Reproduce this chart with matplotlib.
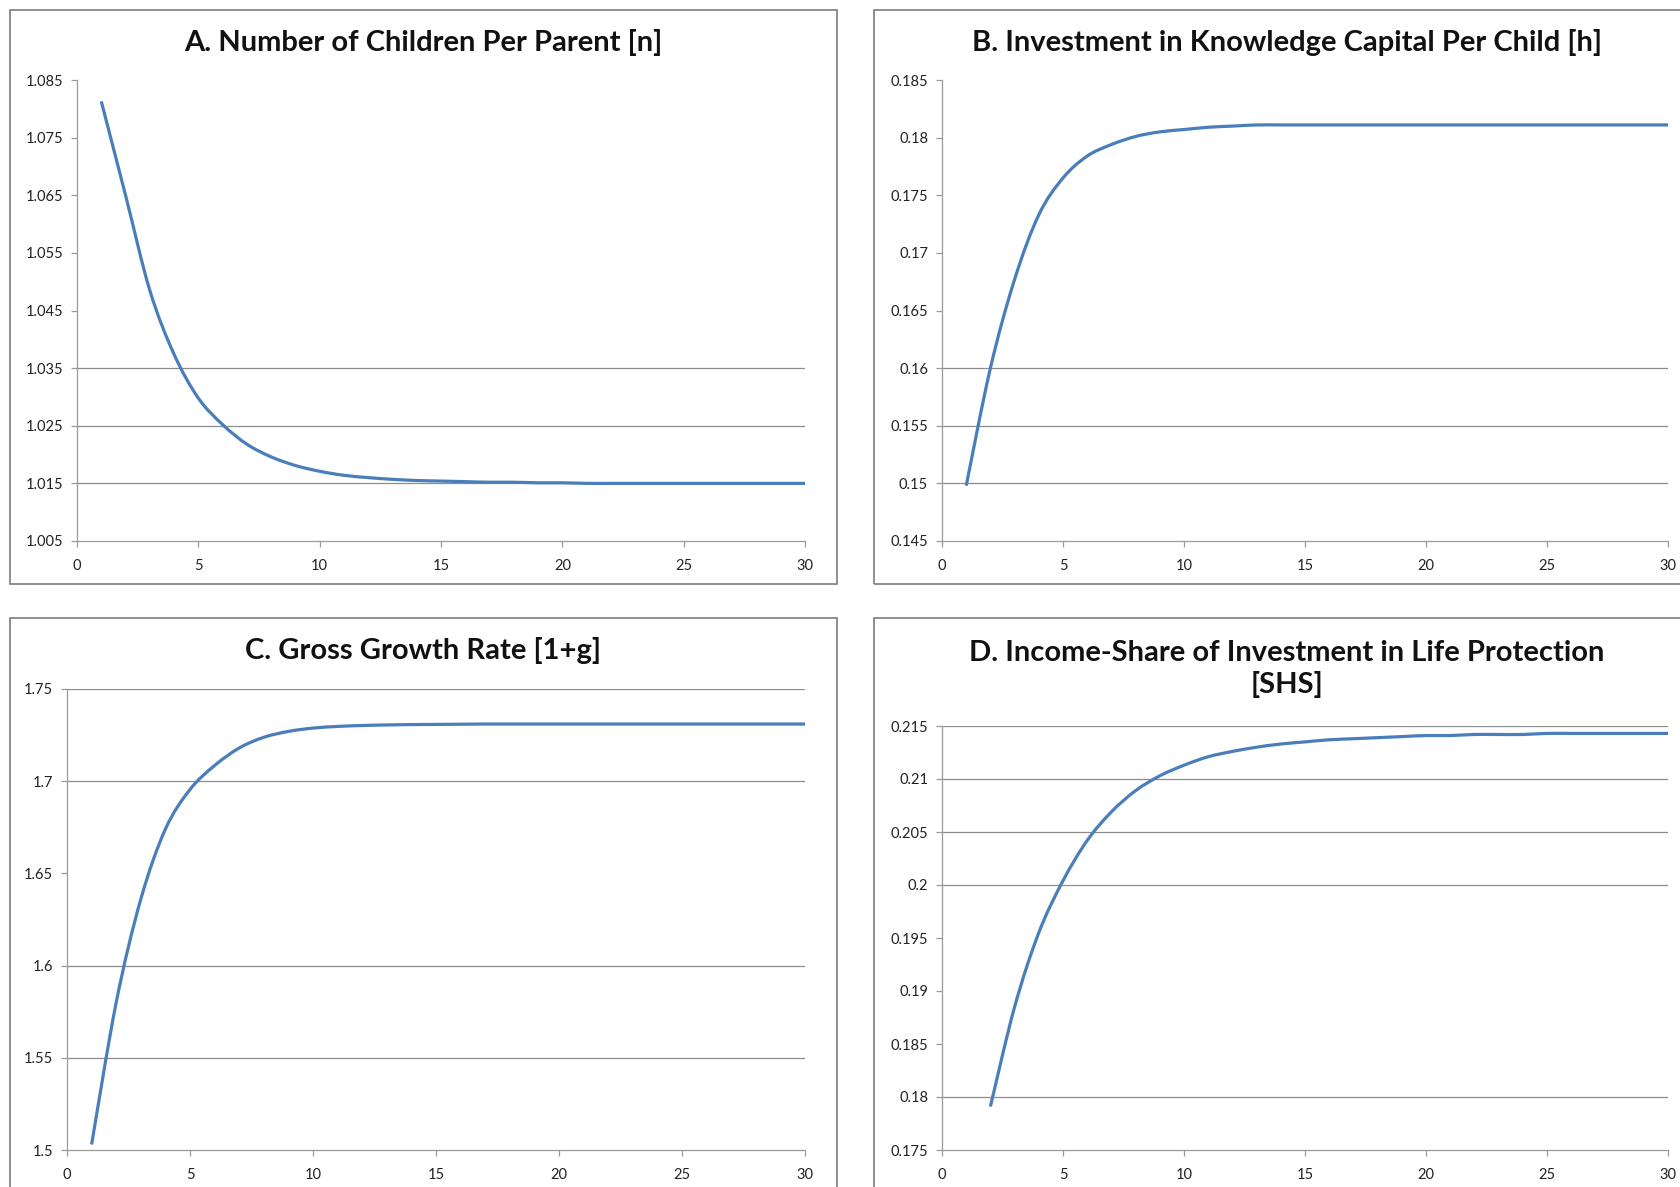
import matplotlib
matplotlib.use('Agg')
import matplotlib.pyplot as plt
import matplotlib.patches as mpatches
from matplotlib.path import Path
from matplotlib.ticker import FuncFormatter

# === Data ===
periods = list(range(1, 31))
periods_shs = list(range(2, 31))

children_n = [1.0813, 1.0650, 1.0485, 1.0374, 1.0298, 1.0252, 1.0218, 1.0196,
              1.0181, 1.0171, 1.0164, 1.0160, 1.0157, 1.0155, 1.0154, 1.0153,
              1.0152, 1.0152, 1.0151, 1.0151, 1.0150, 1.0150, 1.0150, 1.0150,
              1.0150, 1.0150, 1.0150, 1.0150, 1.0150, 1.0150]

knowledge_h = [0.1498, 0.1600, 0.1677, 0.1733, 0.1765, 0.1784, 0.1794, 0.1801,
               0.1805, 0.1807, 0.1809, 0.1810, 0.1811, 0.1811, 0.1811, 0.1811,
               0.1811, 0.1811, 0.1811, 0.1811, 0.1811, 0.1811, 0.1811, 0.1811,
               0.1811, 0.1811, 0.1811, 0.1811, 0.1811, 0.1811]

growth_g = [1.503, 1.580, 1.636, 1.674, 1.6955, 1.7085, 1.7180, 1.7238, 1.7270,
            1.7288, 1.7297, 1.7302, 1.7305, 1.7307, 1.7308, 1.7309, 1.7310,
            1.7310, 1.7310, 1.7310, 1.7310, 1.7310, 1.7310, 1.7310, 1.7310,
            1.7310, 1.7310, 1.7310, 1.7310, 1.7310]

shs = [0.1791, 0.1885, 0.1955, 0.2004, 0.2042, 0.2069, 0.2089, 0.2103, 0.2113,
       0.2121, 0.2126, 0.2130, 0.2133, 0.2135, 0.2137, 0.2138, 0.2139, 0.2140,
       0.2141, 0.2141, 0.2142, 0.2142, 0.2142, 0.2143, 0.2143, 0.2143, 0.2143,
       0.2143, 0.2143]

titles = ['A. Number of Children Per Parent [n]',
          'B. Investment in Knowledge Capital Per Child [h]',
          'C. Gross Growth Rate [1+g]',
          'D. Income-Share of Investment in Life Protection\n[SHS]']

# === Style ===
LINE = '#4A7EBB'
GRID = '#8C8C8C'
AXIS = '#9A9A9A'
BORDER = '#868686'
TXT = '#222222'
plt.rcParams['font.family'] = ['Lato', 'DejaVu Sans']

W, H = 1680, 1187
fig = plt.figure(figsize=(W / 100, H / 100), dpi=100)


def fx(px):
    return px / W


def fy(py):
    return 1 - py / H


def fmt(v, _):
    s = '%.3f' % v
    return s.rstrip('0').rstrip('.')


def smooth_path(xs, ys):
    # Excel-style smoothed line: Catmull-Rom segments as cubic Beziers
    pts = list(zip(xs, ys))
    n = len(pts)
    verts = [pts[0]]
    codes = [Path.MOVETO]
    for i in range(n - 1):
        p0 = pts[i - 1] if i > 0 else pts[i]
        p1, p2 = pts[i], pts[i + 1]
        p3 = pts[i + 2] if i + 2 < n else pts[i + 1]
        c1 = (p1[0] + (p2[0] - p0[0]) / 6, p1[1] + (p2[1] - p0[1]) / 6)
        c2 = (p2[0] - (p3[0] - p1[0]) / 6, p2[1] - (p3[1] - p1[1]) / 6)
        verts += [c1, c2, p2]
        codes += [Path.CURVE4] * 3
    return Path(verts, codes)


# panel: (axes px box left, right, top, bottom), ylim, ytick step, grid levels, x, y
panels = [
    ((77, 805, 80, 541), (1.005, 1.085), 0.01, [1.015, 1.025, 1.035], periods, children_n),
    ((942, 1668, 80, 541), (0.145, 0.185), 0.005, [0.15, 0.155, 0.16], periods, knowledge_h),
    ((67, 805, 689, 1150), (1.5, 1.75), 0.05, [1.55, 1.6, 1.7, 1.75], periods, growth_g),
    ((942, 1668, 726, 1150), (0.175, 0.215), 0.005, [0.18, 0.2, 0.205, 0.21, 0.215], periods_shs, shs),
]

# panel frames (px): left, right, top, bottom
frames = [(10, 837, 10, 584), (874, 1700, 10, 584),
          (10, 837, 618, 1200), (874, 1700, 618, 1200)]
title_pos = [(423, 42), (1287, 42), (423, 651), (1287, 669)]

for i, ((l, r, t, b), ylim, step, grid, xs, ys) in enumerate(panels):
    ax = fig.add_axes([fx(l), fy(b), fx(r - l), (b - t) / H])
    ax.set_xlim(0, 30)
    ax.set_ylim(*ylim)
    n = int(round((ylim[1] - ylim[0]) / step))
    ax.set_yticks([ylim[0] + k * step for k in range(n + 1)])
    ax.set_xticks(range(0, 31, 5))
    ax.yaxis.set_major_formatter(FuncFormatter(fmt))
    for g in grid:
        ax.axhline(g, color=GRID, lw=0.9, zorder=1)
    ax.add_patch(mpatches.PathPatch(smooth_path(xs, ys), facecolor='none',
                                    edgecolor=LINE, lw=2.3, zorder=3,
                                    clip_on=False, capstyle='butt'))
    for s in ['top', 'right']:
        ax.spines[s].set_visible(False)
    for s in ['left', 'bottom']:
        ax.spines[s].set_color(AXIS)
        ax.spines[s].set_linewidth(0.9)
    ax.tick_params(axis='both', colors=AXIS, labelcolor=TXT, labelsize=10.5,
                   length=4, width=0.9, direction='out')
    ax.tick_params(axis='y', pad=6)
    ax.tick_params(axis='x', pad=9)

    fl, fr, ft, fb = frames[i]
    fig.patches.append(mpatches.Rectangle((fx(fl), fy(fb)), fx(fr - fl), (fb - ft) / H,
                                          transform=fig.transFigure, fill=False,
                                          edgecolor=BORDER, lw=1.3))
    tx, ty = title_pos[i]
    fig.text(fx(tx), fy(ty), titles[i], ha='center', va='center', fontsize=21,
             fontweight='bold', color='#111', linespacing=1.2)

plt.savefig('out.png', dpi=100, facecolor='white')
plt.close()
